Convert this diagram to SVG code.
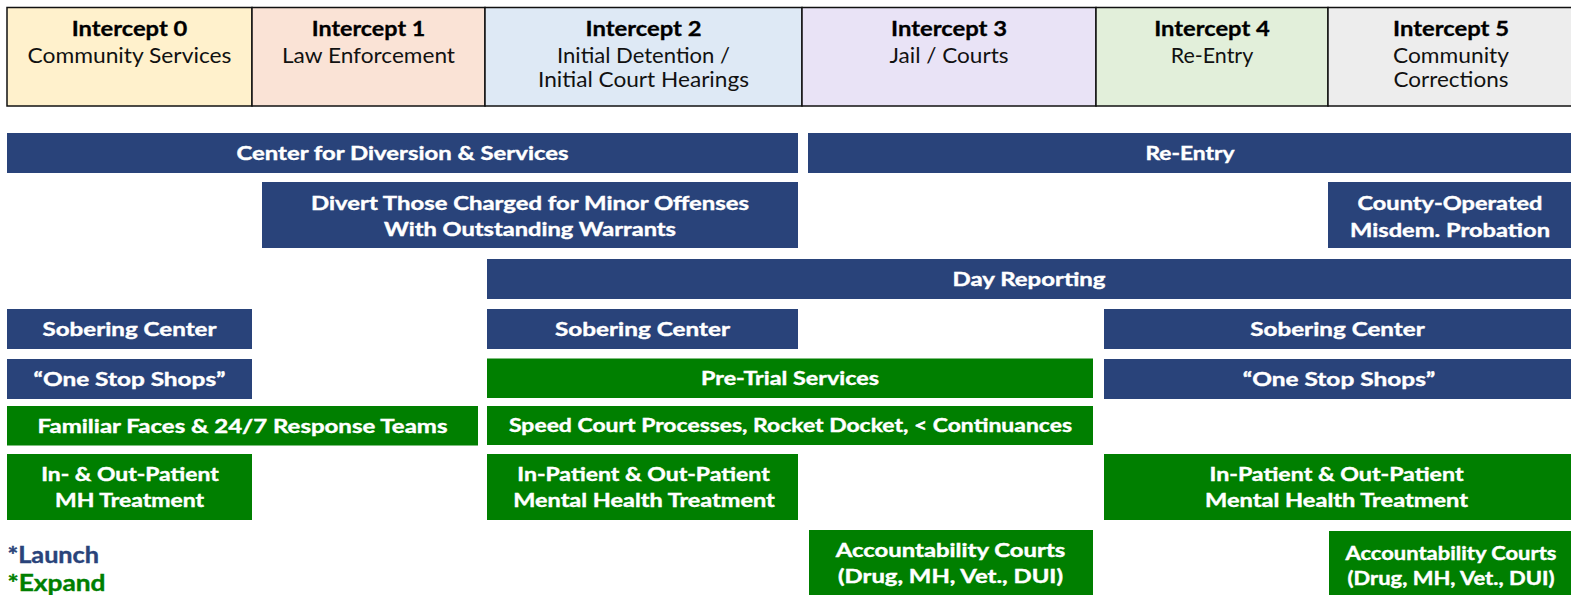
<svg xmlns="http://www.w3.org/2000/svg" width="1571" height="595" viewBox="0 0 1571 595">
  <style>
    .cell { stroke: #111; stroke-width: 1.5; }
    .navy { fill: #29437A; }
    .green { fill: #007F00; }
    .hb { font-family: Lato, "Liberation Sans", sans-serif; font-weight: 700; font-size: 21px; fill: #000; stroke: #000; stroke-width: 0.3; text-anchor: middle; }
    .hr { font-family: Lato, "Liberation Sans", sans-serif; font-weight: 400; font-size: 21px; fill: #111; text-anchor: middle; }
    .t { font-family: Lato, "Liberation Sans", sans-serif; font-weight: 700; font-size: 19px; fill: #fff; stroke: #fff; stroke-width: 0.4; text-anchor: middle; }
    .ts { font-family: Lato, "Liberation Sans", sans-serif; font-weight: 700; font-size: 18.5px; fill: #fff; stroke: #fff; stroke-width: 0.4; text-anchor: middle; }
    .lg { font-family: Lato, "Liberation Sans", sans-serif; font-weight: 700; font-size: 23px; stroke-width: 0.4; }
  </style>

  <rect width="1571" height="595" fill="#fff"/>

  <!-- Intercept header row -->
  <g id="header">
    <g id="intercept-0">
      <rect class="cell" x="7" y="7.5" width="245" height="98.5" fill="#FFF1CC"/>
      <text class="hb" x="129.5" y="35.5" textLength="115.5" lengthAdjust="spacingAndGlyphs">Intercept 0</text>
      <text class="hr" x="129.5" y="62.5" textLength="204" lengthAdjust="spacingAndGlyphs">Community Services</text>
    </g>
    <g id="intercept-1">
      <rect class="cell" x="252" y="7.5" width="233" height="98.5" fill="#FAE3D6"/>
      <text class="hb" x="368.5" y="35.5" textLength="113.5" lengthAdjust="spacingAndGlyphs">Intercept 1</text>
      <text class="hr" x="368.5" y="62.5" textLength="173" lengthAdjust="spacingAndGlyphs">Law Enforcement</text>
    </g>
    <g id="intercept-2">
      <rect class="cell" x="485" y="7.5" width="317" height="98.5" fill="#DEE9F5"/>
      <text class="hb" x="643.5" y="35.5" textLength="116" lengthAdjust="spacingAndGlyphs">Intercept 2</text>
      <text class="hr" x="643.5" y="62.5" textLength="173" lengthAdjust="spacingAndGlyphs">Initial Detention /</text>
      <text class="hr" x="643.5" y="87" textLength="211" lengthAdjust="spacingAndGlyphs">Initial Court Hearings</text>
    </g>
    <g id="intercept-3">
      <rect class="cell" x="802" y="7.5" width="294" height="98.5" fill="#E9E3F6"/>
      <text class="hb" x="949" y="35.5" textLength="116" lengthAdjust="spacingAndGlyphs">Intercept 3</text>
      <text class="hr" x="949" y="62.5" textLength="119" lengthAdjust="spacingAndGlyphs">Jail / Courts</text>
    </g>
    <g id="intercept-4">
      <rect class="cell" x="1096" y="7.5" width="232" height="98.5" fill="#E2EFDA"/>
      <text class="hb" x="1212" y="35.5" textLength="115.5" lengthAdjust="spacingAndGlyphs">Intercept 4</text>
      <text class="hr" x="1212" y="62.5" textLength="82.5" lengthAdjust="spacingAndGlyphs">Re-Entry</text>
    </g>
    <g id="intercept-5">
      <rect class="cell" x="1328" y="7.5" width="260" height="98.5" fill="#EDEDED"/>
      <text class="hb" x="1451" y="35.5" textLength="116" lengthAdjust="spacingAndGlyphs">Intercept 5</text>
      <text class="hr" x="1451" y="62.5" textLength="116" lengthAdjust="spacingAndGlyphs">Community</text>
      <text class="hr" x="1451" y="87" textLength="115" lengthAdjust="spacingAndGlyphs">Corrections</text>
    </g>
  </g>

  <!-- Program bars (no connectors between them) -->
  <g id="connectors"/>

  <g id="center-diversion">
    <rect class="navy" x="7" y="133" width="791" height="40"/>
    <text class="t" x="402.5" y="159.5" textLength="332" lengthAdjust="spacingAndGlyphs">Center for Diversion &amp; Services</text>
  </g>
  <g id="re-entry">
    <rect class="navy" x="808" y="133" width="763" height="40"/>
    <text class="t" x="1190" y="159.5" textLength="89" lengthAdjust="spacingAndGlyphs">Re-Entry</text>
  </g>
  <g id="divert-minor-offenses">
    <rect class="navy" x="262" y="182" width="536" height="66"/>
    <text class="t" x="530" y="210" textLength="438" lengthAdjust="spacingAndGlyphs">Divert Those Charged for Minor Offenses</text>
    <text class="t" x="530" y="235.7" textLength="292" lengthAdjust="spacingAndGlyphs">With Outstanding Warrants</text>
  </g>
  <g id="misdemeanor-probation">
    <rect class="navy" x="1328" y="182" width="243" height="66"/>
    <text class="t" x="1450" y="210" textLength="185" lengthAdjust="spacingAndGlyphs">County-Operated</text>
    <text class="t" x="1450" y="236.5" textLength="200" lengthAdjust="spacingAndGlyphs">Misdem. Probation</text>
  </g>
  <g id="day-reporting">
    <rect class="navy" x="487" y="259" width="1084" height="40"/>
    <text class="t" x="1029" y="285.7" textLength="153" lengthAdjust="spacingAndGlyphs">Day Reporting</text>
  </g>

  <g id="sobering-center-0">
    <rect class="navy" x="7" y="309" width="245" height="40"/>
    <text class="t" x="129.5" y="335.7" textLength="174" lengthAdjust="spacingAndGlyphs">Sobering Center</text>
  </g>
  <g id="sobering-center-2">
    <rect class="navy" x="487" y="309" width="311" height="40"/>
    <text class="t" x="642.5" y="335.7" textLength="175" lengthAdjust="spacingAndGlyphs">Sobering Center</text>
  </g>
  <g id="sobering-center-4">
    <rect class="navy" x="1104" y="309" width="467" height="40"/>
    <text class="t" x="1337.5" y="335.7" textLength="174.5" lengthAdjust="spacingAndGlyphs">Sobering Center</text>
  </g>

  <g id="one-stop-shops-0">
    <rect class="navy" x="7" y="359" width="245" height="40"/>
    <text class="t" x="129.5" y="385.7" textLength="192" lengthAdjust="spacingAndGlyphs">“One Stop Shops”</text>
  </g>
  <g id="pre-trial-services">
    <rect class="green" x="487" y="358.5" width="606" height="39.5"/>
    <text class="t" x="790" y="385" textLength="178" lengthAdjust="spacingAndGlyphs">Pre-Trial Services</text>
  </g>
  <g id="one-stop-shops-4">
    <rect class="navy" x="1104" y="359" width="467" height="40"/>
    <text class="t" x="1339" y="385.7" textLength="192.5" lengthAdjust="spacingAndGlyphs">“One Stop Shops”</text>
  </g>

  <g id="familiar-faces">
    <rect class="green" x="7" y="406" width="471" height="39.5"/>
    <text class="t" x="242.5" y="432.5" textLength="410" lengthAdjust="spacingAndGlyphs">Familiar Faces &amp; 24/7 Response Teams</text>
  </g>
  <g id="speed-court">
    <rect class="green" x="487" y="406" width="606" height="39"/>
    <text class="t" x="790.5" y="432.2" textLength="563" lengthAdjust="spacingAndGlyphs">Speed Court Processes, Rocket Docket, &lt; Continuances</text>
  </g>

  <g id="mh-treatment-0">
    <rect class="green" x="7" y="454" width="245" height="66"/>
    <text class="t" x="130" y="481.3" textLength="177.5" lengthAdjust="spacingAndGlyphs">In- &amp; Out-Patient</text>
    <text class="t" x="129.5" y="507.3" textLength="149" lengthAdjust="spacingAndGlyphs">MH Treatment</text>
  </g>
  <g id="mh-treatment-2">
    <rect class="green" x="487" y="454" width="311" height="66"/>
    <text class="t" x="643.5" y="481.3" textLength="252.5" lengthAdjust="spacingAndGlyphs">In-Patient &amp; Out-Patient</text>
    <text class="t" x="644" y="507.3" textLength="261.5" lengthAdjust="spacingAndGlyphs">Mental Health Treatment</text>
  </g>
  <g id="mh-treatment-4">
    <rect class="green" x="1104" y="454" width="467" height="66"/>
    <text class="t" x="1336.5" y="481.3" textLength="254" lengthAdjust="spacingAndGlyphs">In-Patient &amp; Out-Patient</text>
    <text class="t" x="1336.5" y="507.3" textLength="263" lengthAdjust="spacingAndGlyphs">Mental Health Treatment</text>
  </g>

  <g id="accountability-courts-3">
    <rect class="green" x="809" y="530" width="284" height="65"/>
    <text class="t" x="950.5" y="556.7" textLength="229.5" lengthAdjust="spacingAndGlyphs">Accountability Courts</text>
    <text class="t" x="950.5" y="583" textLength="225" lengthAdjust="spacingAndGlyphs">(Drug, MH, Vet., DUI)</text>
  </g>
  <g id="accountability-courts-5">
    <rect class="green" x="1329" y="531" width="242" height="64"/>
    <text class="ts" x="1451" y="560" textLength="211" lengthAdjust="spacingAndGlyphs">Accountability Courts</text>
    <text class="ts" x="1451" y="585" textLength="207" lengthAdjust="spacingAndGlyphs">(Drug, MH, Vet., DUI)</text>
  </g>

  <!-- Key -->
  <g id="legend">
    <text class="lg" x="7.5" y="563.3" fill="#29437A" stroke="#29437A" textLength="91.5" lengthAdjust="spacingAndGlyphs">*Launch</text>
    <text class="lg" x="7.5" y="591" fill="#007F00" stroke="#007F00" textLength="98" lengthAdjust="spacingAndGlyphs">*Expand</text>
  </g>
</svg>
